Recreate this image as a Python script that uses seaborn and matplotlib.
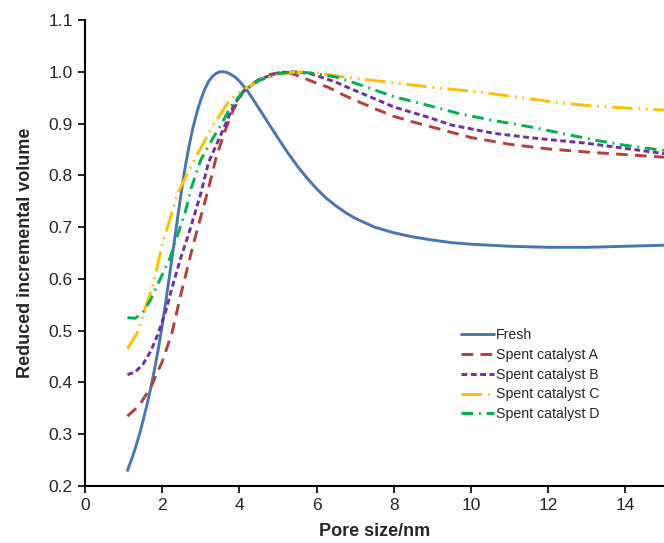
import matplotlib
matplotlib.use("Agg")
import matplotlib.pyplot as plt
import seaborn as sns
import pandas as pd

# ---- data ----
fresh_x = [1.1, 1.2, 1.3, 1.4, 1.5, 1.6, 1.7, 1.8, 1.9, 2.0, 2.1, 2.2, 2.3, 2.4, 2.5, 2.6, 2.7,
           2.8, 2.9, 3.0, 3.1, 3.2, 3.3, 3.4, 3.5, 3.6, 3.7, 3.8, 3.9, 4.0, 4.2, 4.5, 4.8, 5.0,
           5.25, 5.5, 5.75, 6.0, 6.25, 6.5, 6.75, 7.0, 7.5, 8.0, 8.5, 9.0, 9.5, 10.0, 11.0,
           12.0, 13.0, 14.0, 15.0]
fresh_y = [0.23, 0.25, 0.272, 0.297, 0.325, 0.355, 0.388, 0.425, 0.465, 0.51, 0.56, 0.612,
           0.665, 0.718, 0.77, 0.818, 0.858, 0.893, 0.922, 0.946, 0.966, 0.981, 0.991, 0.997,
           1.0, 1.0, 0.998, 0.994, 0.989, 0.982, 0.964, 0.93, 0.895, 0.872, 0.844, 0.818,
           0.795, 0.774, 0.756, 0.741, 0.728, 0.717, 0.700, 0.689, 0.681, 0.675, 0.670,
           0.667, 0.663, 0.661, 0.661, 0.663, 0.665]

a_x = [1.1, 1.4, 1.7, 2.0, 2.25, 2.5, 2.8, 3.0, 3.2, 3.4, 3.6, 3.8, 4.1, 4.4, 4.8, 5.2, 5.5, 6.0,
       6.3, 6.7, 7.0, 7.5, 8.0, 8.5, 9.0, 10.0, 11.0, 12.0, 13.0, 14.0, 15.0]
a_y = [0.335, 0.355, 0.39, 0.44, 0.495, 0.575, 0.665, 0.72, 0.775, 0.835, 0.88, 0.92, 0.962,
       0.98, 0.995, 1.0, 0.993, 0.978, 0.97, 0.955, 0.945, 0.929, 0.914, 0.903, 0.893, 0.873,
       0.86, 0.851, 0.845, 0.84, 0.835]

b_x = [1.1, 1.3, 1.5, 1.7, 1.9, 2.1, 2.3, 2.5, 2.7, 3.0, 3.2, 3.5, 3.85, 4.1, 4.5, 5.0, 5.4, 5.8,
       6.1, 6.5, 6.8, 7.5, 8.0, 8.9, 9.5, 10.6, 11.5, 12.3, 13.0, 14.0, 15.0]
b_y = [0.415, 0.42, 0.435, 0.46, 0.495, 0.54, 0.595, 0.645, 0.69, 0.765, 0.825, 0.875, 0.935,
       0.962, 0.985, 0.998, 1.0, 0.997, 0.99, 0.98, 0.97, 0.948, 0.932, 0.912, 0.897, 0.881,
       0.873, 0.867, 0.862, 0.852, 0.842]

c_x = [1.1, 1.35, 1.6, 1.75, 2.0, 2.4, 2.8, 3.3, 3.7, 3.9, 4.1, 4.5, 5.0, 5.5, 6.0, 6.7, 7.5,
       8.2, 9.0, 10.2, 11.0, 12.3, 13.0, 14.0, 15.0]
c_y = [0.465, 0.495, 0.553, 0.585, 0.665, 0.765, 0.825, 0.894, 0.94, 0.955, 0.965, 0.983, 0.995,
       1.0, 0.998, 0.99, 0.983, 0.977, 0.97, 0.961, 0.953, 0.94, 0.935, 0.93, 0.926]

d_x = [1.1, 1.3, 1.5, 1.7, 1.95, 2.2, 2.4, 2.6, 2.75, 3.0, 3.3, 3.5, 3.8, 4.1, 4.5, 5.0, 5.4,
       5.8, 6.5, 7.0, 7.5, 8.0, 9.0, 9.7, 10.5, 11.5, 12.3, 13.2, 14.0, 15.0]
d_y = [0.525, 0.524, 0.535, 0.56, 0.6, 0.64, 0.685, 0.73, 0.775, 0.83, 0.87, 0.895, 0.935,
       0.962, 0.983, 0.996, 1.0, 0.998, 0.99, 0.978, 0.965, 0.952, 0.933, 0.919, 0.907, 0.894,
       0.882, 0.868, 0.858, 0.848]

series_names = ["Fresh", "Spent catalyst A", "Spent catalyst B", "Spent catalyst C", "Spent catalyst D"]
series_x = [fresh_x, a_x, b_x, c_x, d_x]
series_y = [fresh_y, a_y, b_y, c_y, d_y]
colors = ["#4A76B0", "#B0413E", "#7030A0", "#FFC000", "#00B050"]
styles = ["-", (0, (4, 2.5)), (0, (2, 1.2)), (0, (7, 2, 0.6, 2, 0.6, 2)), (0, (4, 2, 0.6, 2))]

xticks = [0, 2, 4, 6, 8, 10, 12, 14]
yticks = [0.2, 0.3, 0.4, 0.5, 0.6, 0.7, 0.8, 0.9, 1.0, 1.1]

sns.set_style("white")
plt.rcParams["font.family"] = ["Liberation Sans", "DejaVu Sans"]

fig = plt.figure(figsize=(6.64, 5.43), dpi=100)
ax = fig.add_axes([85 / 664, 1 - 486 / 543, 1 - 85 / 664, (486 - 20) / 543])

for name, xs, ys, col, ls in zip(series_names, series_x, series_y, colors, styles):
    df = pd.DataFrame({"x": xs, "y": ys})
    sns.lineplot(data=df, x="x", y="y", ax=ax, color=col, linestyle=ls, linewidth=2.1,
                 label=name, estimator=None, sort=False)

ax.set_xlim(0, 15)
ax.set_ylim(0.2, 1.1)
ax.set_xticks(xticks)
ax.set_yticks(yticks)
ax.set_xticklabels([str(t) for t in xticks])
ax.set_yticklabels([f"{t:.1f}" for t in yticks])
ax.tick_params(axis="both", direction="out", length=5, width=1.2, color="black",
               labelsize=12.5, bottom=True, left=True, pad=4)
for s in ["top", "right"]:
    ax.spines[s].set_visible(False)
for s in ["left", "bottom"]:
    ax.spines[s].set_color("black")
    ax.spines[s].set_linewidth(1.5)

ax.set_xlabel("Pore size/nm", fontsize=13, fontweight="bold", labelpad=7)
ax.set_ylabel("Reduced incremental volume", fontsize=13, fontweight="bold", labelpad=10)

leg = ax.legend(loc="upper left", bbox_to_anchor=(0.64, 0.352), frameon=False,
                fontsize=10.2, handlelength=2.3, handletextpad=0.15, labelspacing=0.42,
                borderaxespad=0)

fig.savefig("out.png", dpi=100)
